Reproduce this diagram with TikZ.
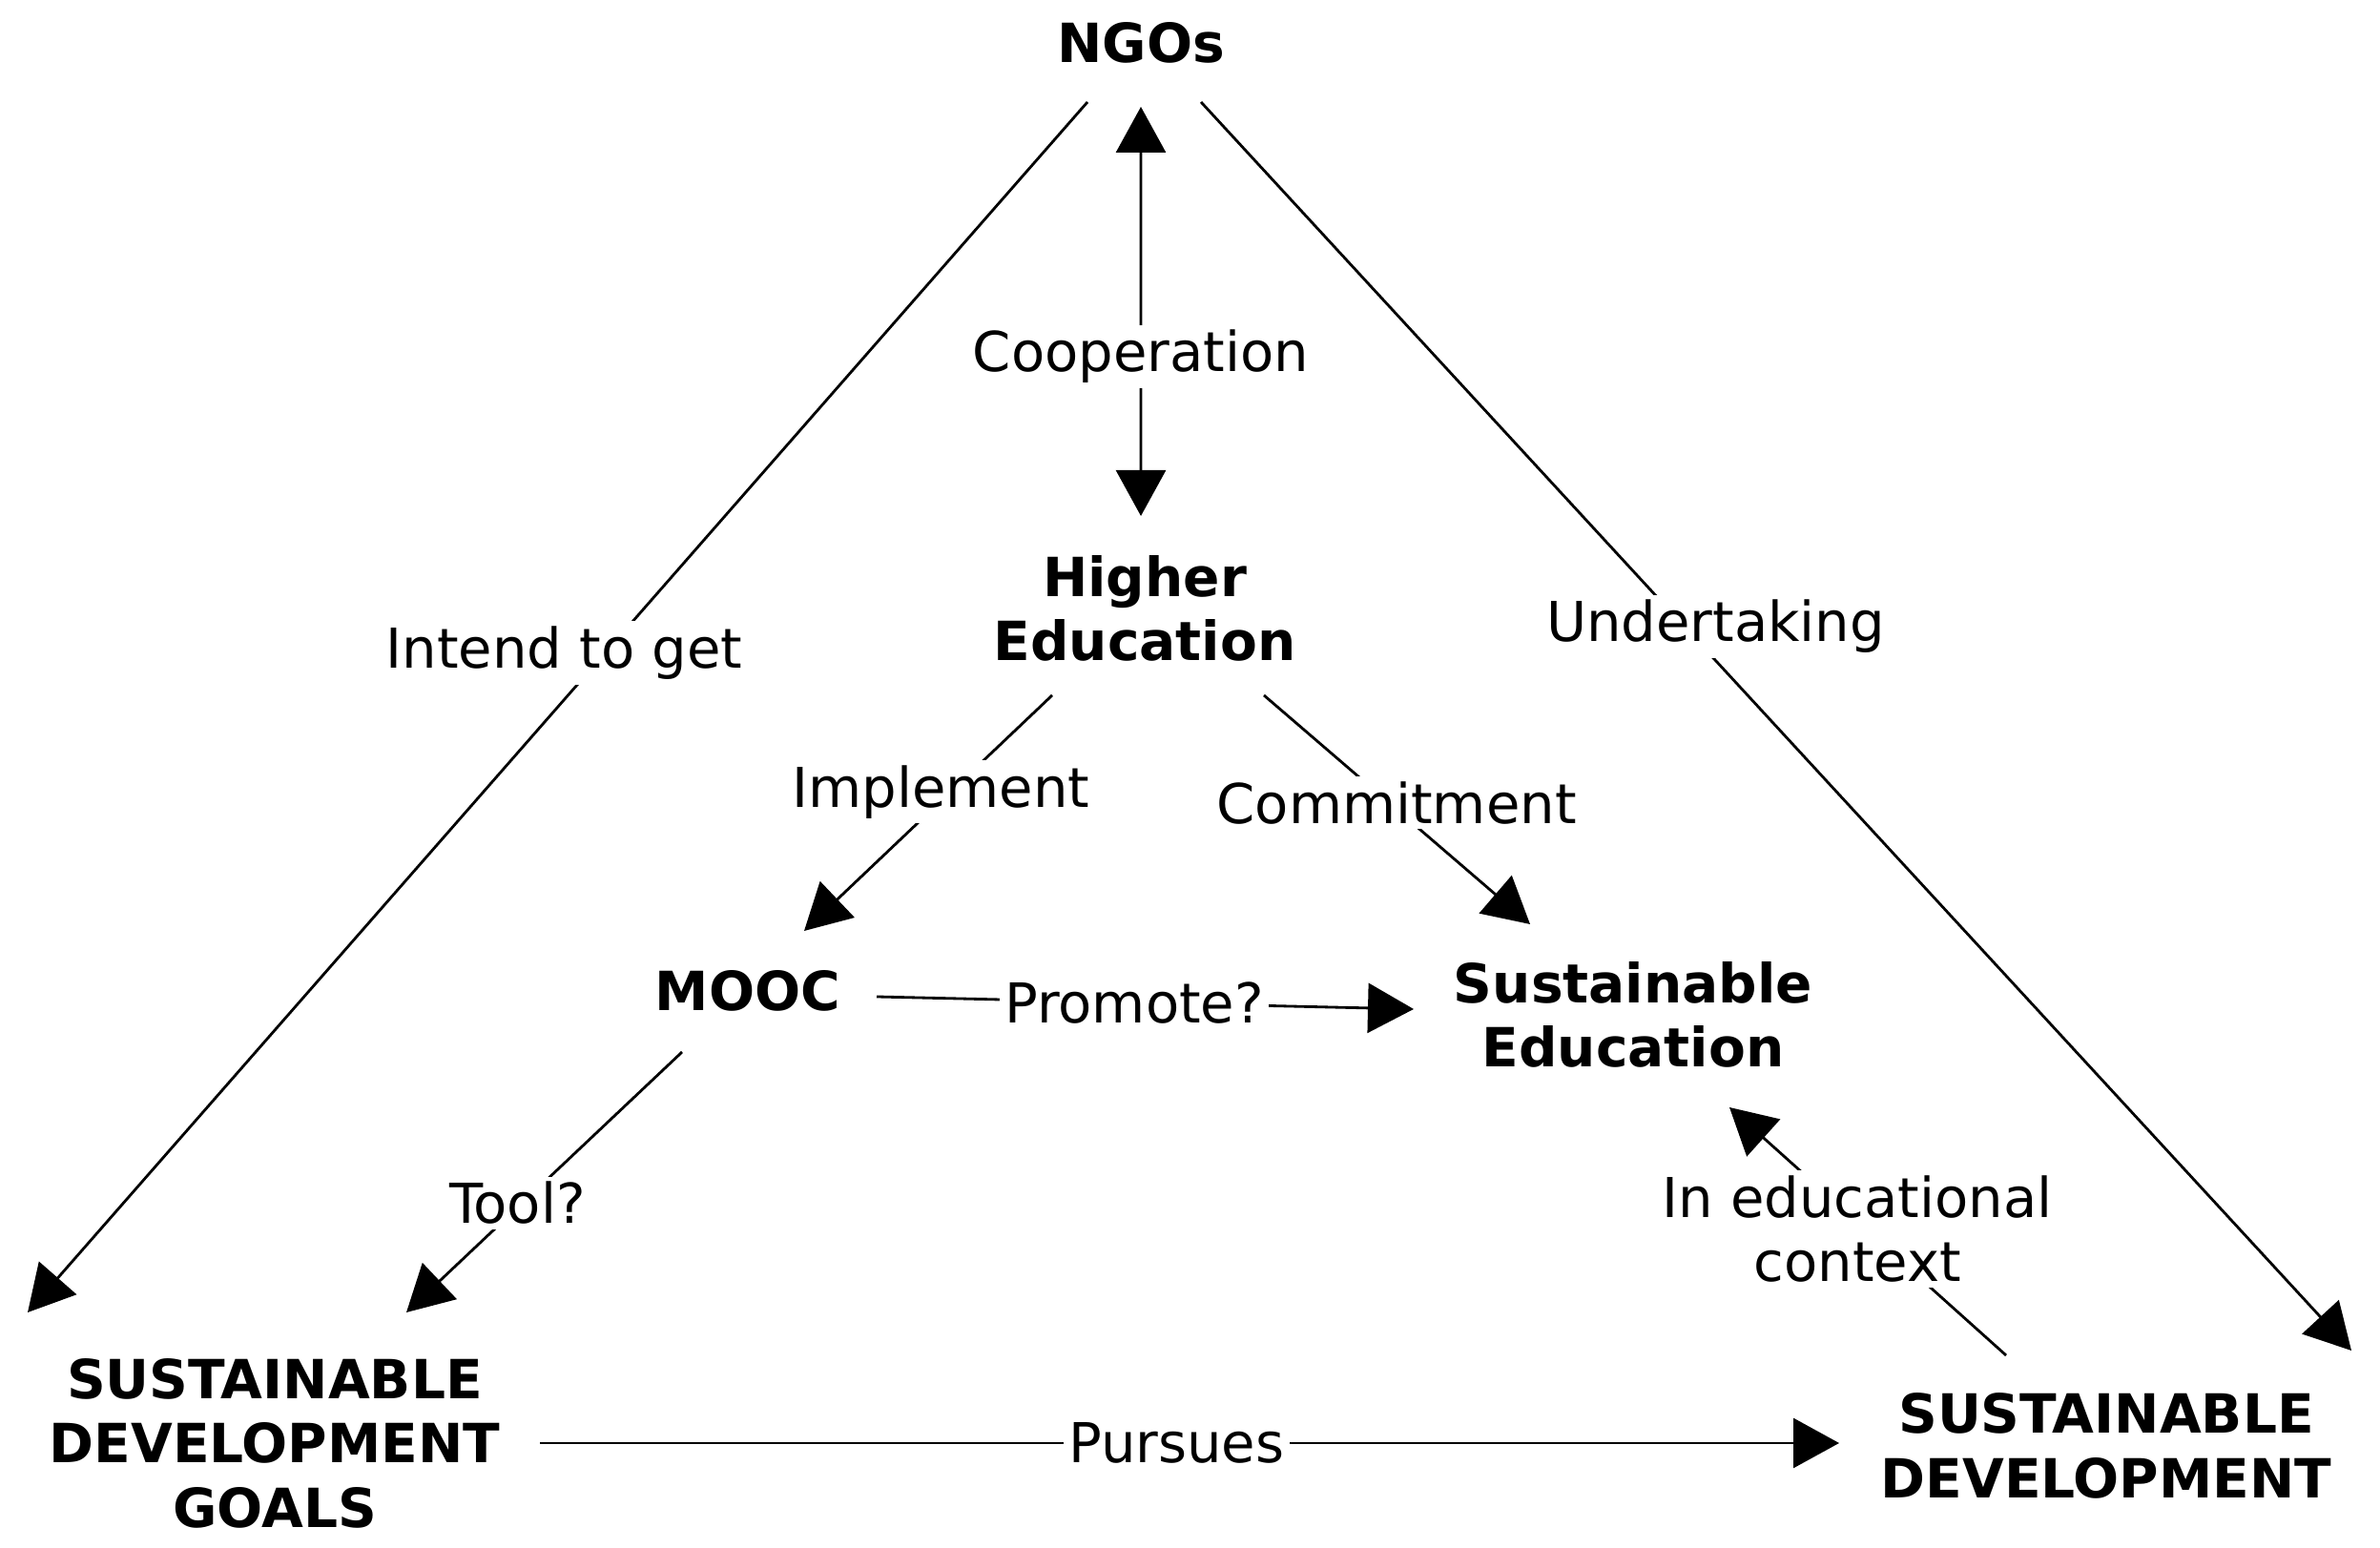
\documentclass[tikz,border=0pt]{standalone}
\usepackage{fontspec}
\setmainfont{DejaVu Sans}
\usetikzlibrary{arrows.meta,calc}

\begin{document}
\begin{tikzpicture}[
        font=\fontsize{16.4}{19.2}\selectfont,
        >={Triangle[length=0.48cm,width=0.52cm]},
        concept/.style={font=\fontsize{16.1}{19.2}\selectfont\bfseries, align=center, inner sep=0pt},
        rel/.style={fill=white, inner sep=1.5pt, align=center},
        link/.style={line width=0.8pt}
    ]
        % Marco
        \useasboundingbox (0,0) rectangle (24.95,16.23);

        % Conceptos
        \node[concept] (ngo) at (11.96,15.78) {NGOs};
        \node[concept] (he) at (12.00,9.85) {Higher\\Education};
        \node[concept] (mooc) at (7.84,5.84) {MOOC};
        \node[concept] (se) at (17.12,5.59) {Sustainable\\Education};
        \node[concept] (sdg) at (2.88,1.10) {SUSTAINABLE\\DEVELOPMENT\\GOALS};
        \node[concept] (sd) at (22.08,1.07) {SUSTAINABLE\\DEVELOPMENT};

        % Relaciones desde NGOs
        \draw[link, <->]
            ($(ngo)+(0,-0.67)$) -- node[rel, pos=0.61] {Cooperation}
            ($(he)+(-0.04,0.97)$);
        \draw[link, ->]
            ($(ngo)+(-0.56,-0.62)$) -- node[rel, pos=0.455, xshift=-0.43cm] {Intend to get}
            ($(sdg)+(-2.59,1.37)$);
        \draw[link, ->]
            ($(ngo)+(0.63,-0.62)$) -- node[rel, pos=0.42, xshift=0.33cm] {Undertaking}
            ($(sd)+(2.57,1.00)$);

        % Relaciones desde Higher Education
        \draw[link, ->]
            ($(he)+(-0.97,-0.91)$) -- node[rel, pos=0.41, xshift=-0.1cm] {Implement}
            ($(mooc)+(0.59,0.63)$);
        \draw[link, ->]
            ($(he)+(1.25,-0.91)$) -- node[rel, pos=0.47, xshift=0.08cm] {Commitment}
            ($(se)+(-1.08,0.95)$);

        % Relaciones desde MOOC
        \draw[link, ->]
            ($(mooc)+(1.35,-0.06)$) -- node[rel, pos=0.48] {Promote?}
            ($(se)+(-2.30,0.06)$);
        \draw[link, ->]
            ($(mooc)+(-0.69,-0.64)$) -- node[rel, pos=0.58, xshift=-0.05cm] {Tool?}
            ($(sdg)+(1.38,1.37)$);

        % Base del triangulo
        \draw[link, ->]
            ($(sdg)+(2.78,0)$) -- node[rel, pos=0.49] {Pursues}
            ($(sd)+(-2.80,0.03)$);
        \draw[link, ->]
            ($(sd)+(-1.05,0.95)$) -- node[rel, pos=0.51, xshift=-0.08cm] {In educational\\context}
            ($(se)+(1.01,-0.97)$);

    \end{tikzpicture}
\end{document}
